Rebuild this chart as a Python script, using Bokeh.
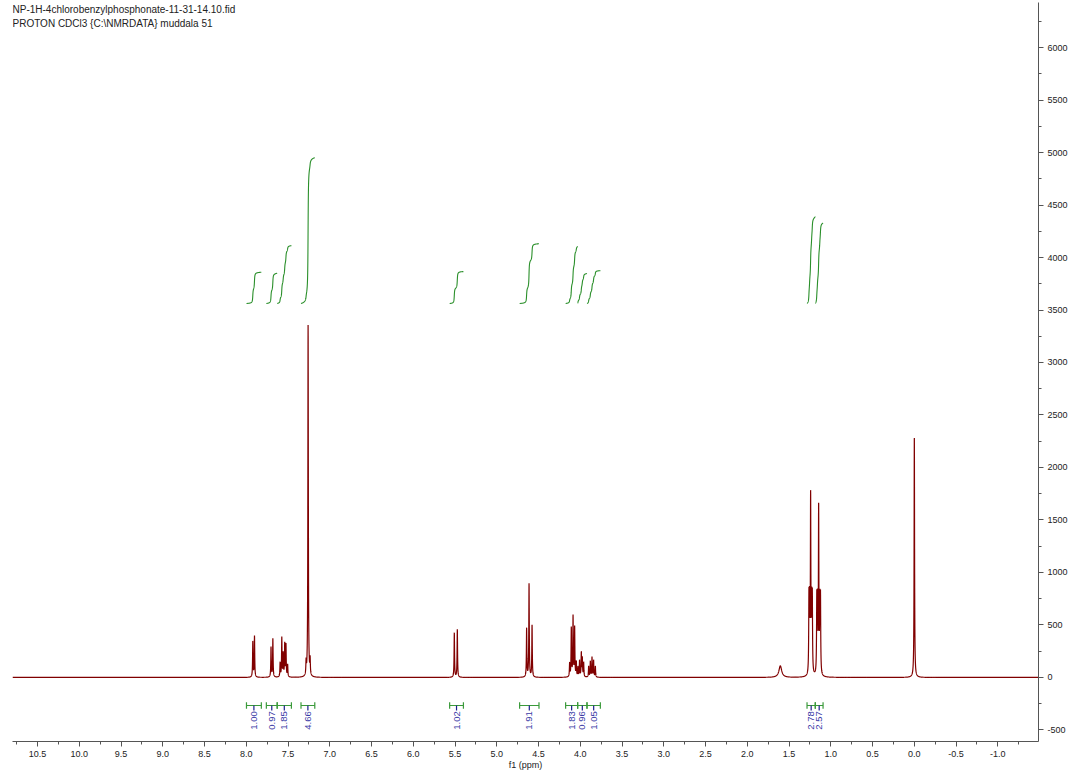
import numpy as np
from bokeh.plotting import figure
from bokeh.models import Range1d, SingleIntervalTicker, PrintfTickFormatter, Label
from bokeh.core.properties import value
from bokeh.embed import file_html
from bokeh.resources import INLINE

# ---------------- data ----------------
title_lines = ["NP-1H-4chlorobenzylphosphonate-11-31-14.10.fid",
               "PROTON CDCl3 {C:\\NMRDATA} muddala 51"]

# sharp lines (ppm, peak height)
peak_ppm = [7.922, 7.902,
            7.704, 7.682,
            7.595, 7.575, 7.558, 7.540, 7.525, 7.505,
            7.284, 7.260, 7.236,
            5.509, 5.473,
            4.643, 4.614, 4.578,
            4.128, 4.108, 4.087, 4.068, 4.048, 4.028, 4.009, 3.988, 3.976, 3.960,
            3.900, 3.880, 3.860, 3.841, 3.820,
            1.262, 1.254, 1.242, 1.230, 1.222,
            1.168, 1.160, 1.146, 1.132, 1.124,
            0.000]
peak_height = [350, 400,
               295, 375,
               150, 390, 250, 340, 330, 130,
               190, 3360, 210,
               430, 460,
               476, 898, 505,
               146, 486, 600, 495, 162, 110, 170, 250, 200, 150,
               110, 160, 200, 170, 110,
               860, 870, 1790, 870, 860,
               840, 850, 1676, 850, 840,
               2300]
# broad line (water)
broad_ppm = [1.605]
broad_height = [110]

# integrations
integral_start = [7.998, 7.76, 7.63, 7.345, 5.565, 4.727, 4.176, 4.032, 3.92, 1.285, 1.186]
integral_end = [7.82, 7.63, 7.46, 7.18, 5.40, 4.495, 4.032, 3.92, 3.76, 1.186, 1.093]
integral_value = [1.00, 0.97, 1.85, 4.66, 1.02, 1.91, 1.83, 0.96, 1.05, 2.78, 2.57]

# ---------------- rendering of line shapes ----------------
X_LEFT, X_RIGHT = 10.80, -1.487
Y_BOT, Y_TOP = -610, 6429
HW_SHARP = 0.0033
HW_BROAD = 0.02

ppm = np.arange(X_LEFT, X_RIGHT, -0.0007)
pk = np.array(peak_ppm)
target = np.array(peak_height, dtype=float)


def lor(x, centers, amps, hw):
    return (amps[None, :] / (1.0 + ((x[:, None] - centers[None, :]) / hw) ** 2)).sum(axis=1)


amps = target.copy()
for _ in range(30):
    actual = lor(pk, pk, amps, HW_SHARP)
    amps *= target / actual

spec = lor(ppm, pk, amps, HW_SHARP) + lor(ppm, np.array(broad_ppm),
                                           np.array(broad_height, float), HW_BROAD)

# ---------------- figure ----------------
p = figure(width=1074, height=776, output_backend="svg", toolbar_location=None,
           x_range=Range1d(X_LEFT, X_RIGHT), y_range=Range1d(Y_BOT, Y_TOP),
           y_axis_location="right",
           min_border_left=12, min_border_right=36, min_border_top=2, min_border_bottom=35)
p.outline_line_color = None
p.xgrid.visible = False
p.ygrid.visible = False
p.background_fill_color = "white"
p.border_fill_color = "white"

FONT = "Liberation Sans"
for ax in (p.xaxis[0], p.yaxis[0]):
    ax.axis_line_color = "#555555"
    ax.major_tick_line_color = "#555555"
    ax.minor_tick_line_color = "#555555"
    ax.major_tick_in = 0
    ax.major_tick_out = 5
    ax.minor_tick_in = 0
    ax.minor_tick_out = 3
    ax.major_label_text_font = FONT
    ax.major_label_text_font_size = "9px"
    ax.major_label_text_color = "#222222"
    ax.major_label_standoff = 4

p.xaxis.ticker = SingleIntervalTicker(interval=0.5, num_minor_ticks=2)
p.xaxis.formatter = PrintfTickFormatter(format="%.1f")
p.xaxis.axis_label = "f1 (ppm)"
p.xaxis.axis_label_text_font = FONT
p.xaxis.axis_label_text_font_size = "9px"
p.xaxis.axis_label_text_font_style = "normal"
p.xaxis.axis_label_text_color = "#222222"
p.xaxis.axis_label_standoff = 0

p.yaxis.ticker = SingleIntervalTicker(interval=500, num_minor_ticks=2)
p.yaxis.formatter = PrintfTickFormatter(format="%d")

# spectrum
p.line(ppm, spec, line_color="#800000", line_width=1.2)

# integral curves
INT_BASE = 3562
INT_SCALE = 298
for s, e, v in zip(integral_start, integral_end, integral_value):
    m = (ppm <= s) & (ppm >= e)
    xs = ppm[m]
    cum = np.cumsum(spec[m])
    cum = cum / cum[-1] * v * INT_SCALE + INT_BASE
    p.line(xs, cum, line_color="#2a8f2a", line_width=1.1)

# integration brackets and labels
BR_Y = -267
CAP = 30
LEAD_Y = -314
starts = np.array(integral_start)
ends = np.array(integral_end)
centers = (starts + ends) / 2
p.segment(x0=starts, y0=[BR_Y] * len(starts), x1=ends, y1=[BR_Y] * len(starts),
          line_color="#3a9a3a", line_width=1.2)
p.segment(x0=starts, y0=[BR_Y - CAP] * len(starts), x1=starts, y1=[BR_Y + CAP] * len(starts),
          line_color="#3a9a3a", line_width=1.2)
p.segment(x0=ends, y0=[BR_Y - CAP] * len(ends), x1=ends, y1=[BR_Y + CAP] * len(ends),
          line_color="#3a9a3a", line_width=1.2)
p.segment(x0=centers, y0=[BR_Y] * len(centers), x1=centers, y1=[LEAD_Y] * len(centers),
          line_color="#1c1c8c", line_width=1.2)
p.text(x=centers, y=[LEAD_Y - 8] * len(centers),
       text=["%.2f" % v for v in integral_value],
       angle=np.pi / 2, text_align="right", text_baseline="middle",
       text_font=value(FONT), text_font_size="9.5px", text_color="#3a3aa6")

# header text
p.add_layout(Label(x=X_LEFT, y=6410, text=title_lines[0], text_font=FONT,
                   text_font_size="10px", text_baseline="top", text_color="#222222"))
p.add_layout(Label(x=X_LEFT, y=6286, text=title_lines[1], text_font=FONT,
                   text_font_size="10px", text_baseline="top", text_color="#222222"))

open("out.html", "w").write(file_html(p, INLINE))
